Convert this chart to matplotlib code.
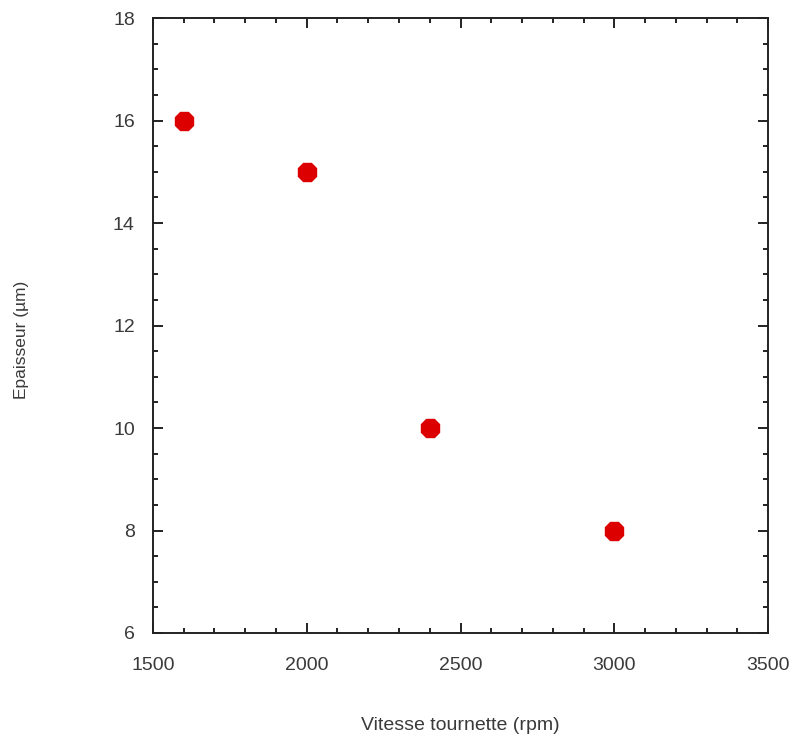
import matplotlib
matplotlib.use('Agg')
import matplotlib.pyplot as plt
from matplotlib.ticker import MultipleLocator

# data
vitesse = [1600, 2000, 2400, 3000]
epaisseur = [16, 15, 10, 8]

plt.rcParams['font.family'] = ['Liberation Sans', 'DejaVu Sans']
fnt = 14
txtcol = '#3a3a3a'

fig = plt.figure(figsize=(7.92, 7.4), dpi=100)
ax = fig.add_axes([0.193, 0.1446, 0.777, 0.831])

ax.plot(vitesse, epaisseur, linestyle='none', marker='8', markersize=14.5,
        color='#dd0000', markeredgecolor='#dd0000')

ax.set_xlim(1500, 3500)
ax.set_ylim(6, 18)
ax.xaxis.set_major_locator(MultipleLocator(500))
ax.xaxis.set_minor_locator(MultipleLocator(100))
ax.yaxis.set_major_locator(MultipleLocator(2))
ax.yaxis.set_minor_locator(MultipleLocator(0.5))

for s in ax.spines.values():
    s.set_linewidth(1.4)
    s.set_color('#222222')

ax.tick_params(which='both', direction='in', top=True, right=True,
               width=1.4, color='#222222')
ax.tick_params(which='major', length=7, labelsize=fnt, labelcolor=txtcol)
ax.tick_params(which='minor', length=3.5)
ax.tick_params(axis='x', which='major', pad=17)
ax.tick_params(axis='y', which='major', pad=13)

# axis titles placed in figure coords to match the reference layout
fig.text(460 / 792, 1 - 725 / 740, 'Vitesse tournette (rpm)', fontsize=fnt,
         color=txtcol, ha='center', va='center')
fig.text(22 / 792, 1 - 340 / 740, 'Epaisseur (µm)', fontsize=12.5,
         color=txtcol, ha='center', va='center', rotation=90)

fig.savefig('out.png', dpi=100)
